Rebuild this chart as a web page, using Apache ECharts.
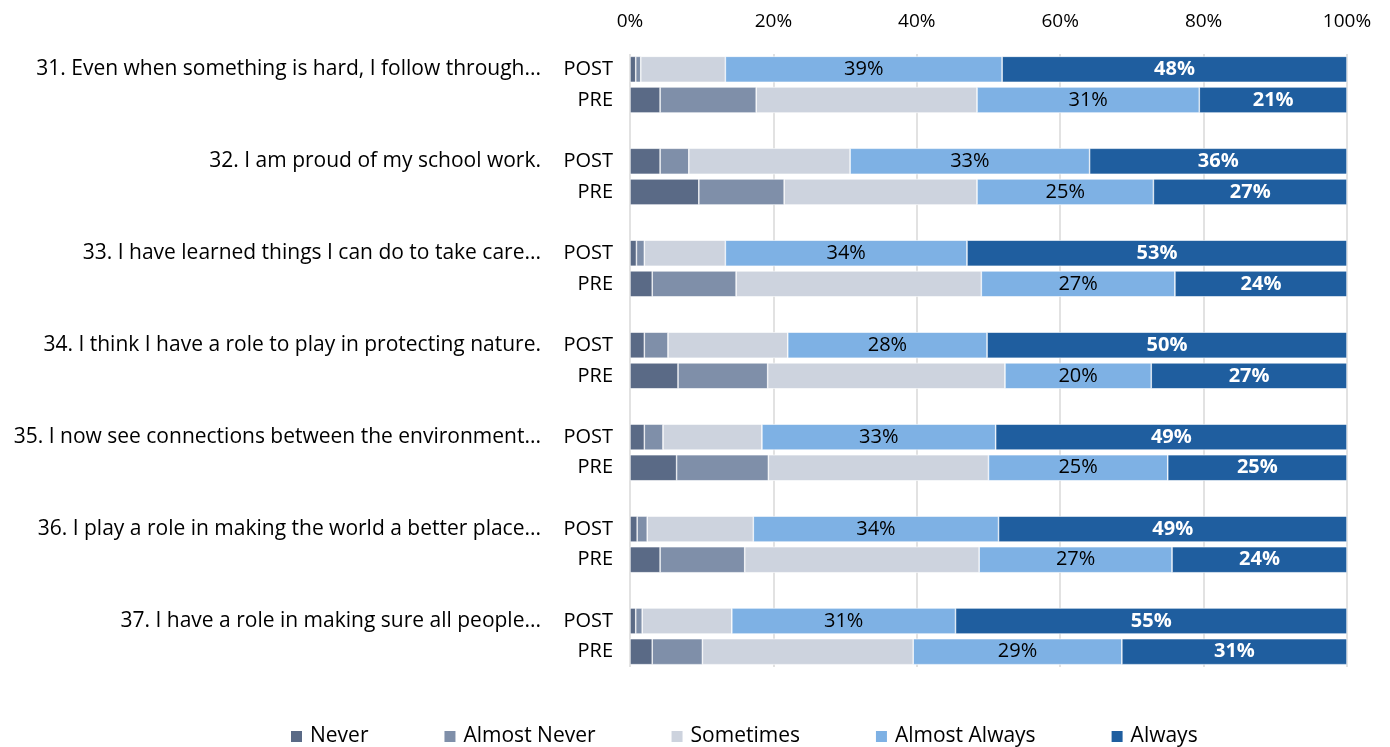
<!DOCTYPE html>
<html>
<head>
<meta charset="utf-8">
<script src="https://cdn.jsdelivr.net/npm/echarts@6/dist/echarts.min.js"></script>
<style>html,body{margin:0;padding:0;background:#fff}#c{width:1390px;height:747px}</style>
</head>
<body>
<div id="c"></div>
<script>
const questions = [
  '31. Even when something is hard, I follow through...',
  '32. I am proud of my school work.',
  '33. I have learned things I can do to take care...',
  '34. I think I have a role to play in protecting nature.',
  '35. I now see connections between the environment...',
  '36. I play a role in making the world a better place...',
  '37. I have a role in making sure all people...'
];
const phases = ['POST', 'PRE'];
const seriesNames = ['Never', 'Almost Never', 'Sometimes', 'Almost Always', 'Always'];
const xTicks = [0, 20, 40, 60, 80, 100];
// values in order: Q31 POST, Q31 PRE, Q32 POST, Q32 PRE, ...
const never        = [0.8, 4.2,  4.2, 9.6,  0.9, 3.1,  2.0, 6.7,  2.0, 6.5,  1.0, 4.2,  0.8, 3.1];
const almostNever  = [0.7, 13.4, 4.0, 11.9, 1.1, 11.7, 3.3, 12.5, 2.6, 12.8, 1.4, 11.8, 0.9, 7.0];
const sometimes    = [11.8, 30.8, 22.5, 26.9, 11.3, 34.2, 16.7, 33.1, 13.8, 30.7, 14.8, 32.7, 12.5, 29.4];
const almostAlways = [38.6, 31.0, 33.4, 24.6, 33.7, 27.0, 27.8, 20.4, 32.6, 25.0, 34.2, 26.9, 31.2, 29.1];
const always       = [48.1, 20.6, 35.9, 27.0, 53.0, 24.0, 50.2, 27.3, 49.0, 25.0, 48.6, 24.4, 54.6, 31.4];

const colors = ['#5a6a86', '#7f8fa9', '#cdd3de', '#7eb1e4', '#1f5e9f'];
const FONT = '"Open Sans"';

// Build slots: POST, PRE, blank between groups
const rowLabels = [], qLabels = [], idxMap = [];
questions.forEach((q, i) => {
  phases.forEach((p, j) => {
    rowLabels.push(p);
    qLabels.push(j === 0 ? q : '');
    idxMap.push(i * 2 + j);
  });
  if (i < questions.length - 1) { rowLabels.push(''); qLabels.push(''); idxMap.push(-1); }
});
function expand(arr) { return idxMap.map(k => k < 0 ? null : arr[k]); }
const allData = [never, almostNever, sometimes, almostAlways, always].map(expand);

const series = seriesNames.map((name, s) => ({
  name, type: 'bar', stack: 'total', barWidth: 26,
  data: allData[s],
  itemStyle: { color: colors[s], borderColor: '#ffffff', borderWidth: 0.6 },
  label: {
    show: s >= 3,
    position: 'inside',
    formatter: p => p.value == null ? '' : Math.round(p.value) + '%',
    color: s === 4 ? '#ffffff' : '#000000',
    fontWeight: s === 4 ? 'bold' : 'normal',
    fontFamily: FONT, fontSize: 20
  }
}));

const chart = echarts.init(document.getElementById('c'), null, { renderer: 'canvas' });
chart.setOption({
  animation: false,
  textStyle: { fontFamily: FONT },
  grid: { left: 630, right: 43, top: 54, height: 613, containLabel: false },
  xAxis: {
    type: 'value', position: 'top', min: 0, max: 100, interval: 20,
    axisLine: { show: false }, axisTick: { show: false },
    axisLabel: { formatter: v => v + '%', fontSize: 19, color: '#000', fontFamily: FONT, margin: 23 },
    splitLine: { show: true, lineStyle: { color: '#d9d9d9', width: 1.5 } }
  },
  yAxis: [
    {
      type: 'category', data: rowLabels, inverse: true,
      axisLine: { show: false }, axisTick: { show: false },
      axisLabel: { fontSize: 20, color: '#000', fontFamily: FONT, margin: 17, interval: 0 }
    },
    {
      type: 'category', data: qLabels, inverse: true, position: 'left', offset: 72,
      axisLine: { show: false }, axisTick: { show: false },
      axisLabel: { fontSize: 21, color: '#000', fontFamily: FONT, margin: 17, interval: 0 }
    }
  ],
  legend: {
    top: 721, left: 284, icon: 'rect', itemWidth: 13, itemHeight: 13, itemGap: 74,
    textStyle: { fontSize: 21, color: '#000', fontFamily: FONT, padding: [0, 0, 0, 2] },
    data: seriesNames
  },
  series
});
</script>
</body>
</html>
